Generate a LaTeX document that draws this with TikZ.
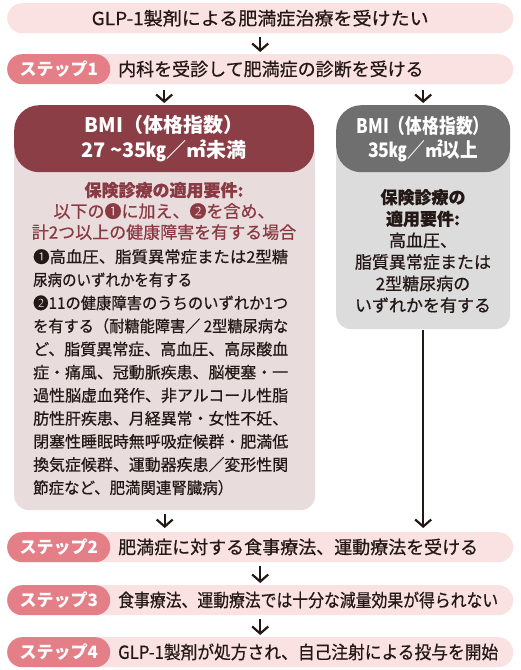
\documentclass[tikz,border=0pt]{standalone}
\usepackage{fontspec}
\setmainfont{Noto Sans CJK JP}
\newfontfamily\medfont{Noto Sans CJK JP}[FakeBold=0.6]
\usetikzlibrary{arrows.meta}
\definecolor{barpink}{HTML}{FAE2E3}
\definecolor{badgepink}{HTML}{E47F88}
\definecolor{maroonh}{HTML}{8B3E46}
\definecolor{mauve}{HTML}{E9DCDD}
\definecolor{dgray}{HTML}{6F6F6F}
\definecolor{lgray}{HTML}{DCDCDC}
\definecolor{ink}{HTML}{231815}
\definecolor{maroontx}{HTML}{8A3A43}
\newcommand{\fsz}[2]{\fontsize{#1}{#2}\selectfont}
\newcommand{\jl}[2]{\resizebox{#1}{\height}{#2}}
\begin{document}
\begin{tikzpicture}[x=1pt,y=-1pt,
  barbox/.style={fill=barpink, draw=none, rounded corners=15pt, minimum width=506pt, minimum height=30pt, inner sep=0pt, anchor=north west},
  badgebox/.style={fill=badgepink, rounded corners=15pt, minimum width=103pt, minimum height=30pt, inner sep=0pt, anchor=north west, text=white, font=\bfseries\fsz{17}{20}},
  bartext/.style={anchor=west, inner sep=0pt, text=ink, font=\medfont\fsz{18}{22}},
  arr/.style={draw=ink, line width=2.2pt, -{Straight Barb[length=7pt,width=16pt]}},
]
\fill[white] (0,0) rectangle (520,670);
\useasboundingbox (0,0) rectangle (520,670);

% top
\node[barbox] (top) at (7,3) {};
\node[bartext, anchor=center] (toptext) at (top.center) {\jl{337pt}{GLP-1製剤による肥満症治療を受けたい}};

% step 1
\node[barbox] (s1) at (7,54) {};
\node[badgebox] (b1) at (7,54) {ステップ1};
\node[bartext] (t1) at (118,69) {内科を受診して肥満症の診断を受ける};

% left box
\node[fill=mauve, rounded corners=15pt, minimum width=301pt, minimum height=370pt, inner sep=0pt, anchor=north west] (lbody) at (14,140) {};
\node[fill=maroonh, rounded corners=25pt, minimum width=300pt, minimum height=67pt, inner sep=0pt, anchor=north west] (lhead) at (14,105) {};
\node[text=white, font=\bfseries\fsz{20}{25}, align=center, inner sep=0pt] (lheadtext) at (lhead.center) {BMI（体格指数）\\27 {\char"7E}35㎏／㎡未満};
\node[text=maroontx, align=center, font=\medfont\fsz{17}{21}, inner sep=0pt] (lreq) at (164,211) {\textbf{保険診療の適用要件:}\\以下の❶に加え、❷を含め、\\計2つ以上の健康障害を有する場合};
\node[anchor=north west, inner sep=0pt, align=left, font=\medfont\fsz{16}{23.1}, text=ink] (llist) at (33,249) {%
\jl{255pt}{❶高血圧、脂質異常症または2型糖}\\
\jl{159pt}{尿病のいずれかを有する}\\
\jl{255pt}{❷11の健康障害のうちのいずれか1つ}\\
\jl{255pt}{を有する（耐糖能障害／ 2型糖尿病な}\\
\jl{255pt}{ど、脂質異常症、高血圧、高尿酸血}\\
\jl{255pt}{症・痛風、冠動脈疾患、脳梗塞・一}\\
\jl{255pt}{過性脳虚血発作、非アルコール性脂}\\
\jl{255pt}{肪性肝疾患、月経異常・女性不妊、}\\
\jl{255pt}{閉塞性睡眠時無呼吸症候群・肥満低}\\
\jl{255pt}{換気症候群、運動器疾患／変形性関}\\
\jl{200pt}{節症など、肥満関連腎臓病）}};

% right box
\node[fill=lgray, rounded corners=15pt, minimum width=174pt, minimum height=189pt, inner sep=0pt, anchor=north west] (rbody) at (336,140) {};
\node[fill=dgray, rounded corners=25pt, minimum width=174pt, minimum height=67pt, inner sep=0pt, anchor=north west] (rhead) at (336,105) {};
\node[text=white, font=\bfseries\fsz{20}{24}, align=center, inner sep=0pt] (rheadtext) at (rhead.center) {\jl{133pt}{BMI（体格指数）}\\\jl{110pt}{35㎏／㎡以上}};
\node[text=ink, align=center, font=\medfont\fsz{17}{21.6}, inner sep=0pt] (rreq) at (423,251) {\textbf{保険診療の}\\\textbf{適用要件:}\\高血圧、\\脂質異常症または\\2型糖尿病の\\いずれかを有する};

% step 2
\node[barbox] (s2) at (7,532) {};
\node[badgebox] (b2) at (7,532) {ステップ2};
\node[bartext] (t2) at (118,547) {肥満症に対する食事療法、運動療法を受ける};

% step 3
\node[barbox] (s3) at (7,585) {};
\node[badgebox] (b3) at (7,585) {ステップ3};
\node[bartext] (t3) at (118,600) {\jl{380pt}{食事療法、運動療法では十分な減量効果が得られない}};

% step 4
\node[barbox] (s4) at (7,637) {};
\node[badgebox] (b4) at (7,637) {ステップ4};
\node[bartext] (t4) at (118,652) {\jl{380pt}{GLP-1製剤が処方され、自己注射による投与を開始}};

% connectors
\draw[arr, shorten <=4pt, shorten >=2pt] (top.south) -- (s1.north);
\draw[arr, shorten <=6pt, shorten >=2pt] (lhead.north |- s1.south) -- (lhead.north);
\draw[arr, shorten <=6pt, shorten >=2pt] (rhead.north |- s1.south) -- (rhead.north);
\draw[arr, shorten <=4pt, shorten >=4pt] (lbody.south) -- (lbody.south |- s2.north);
\draw[arr, shorten <=1pt, shorten >=4pt] (rbody.south) -- (rbody.south |- s2.north);
\draw[arr, shorten <=4pt, shorten >=2pt] (s2.south) -- (s3.north);
\draw[arr, shorten <=4pt, shorten >=2pt] (s3.south) -- (s4.north);
\end{tikzpicture}
\end{document}
